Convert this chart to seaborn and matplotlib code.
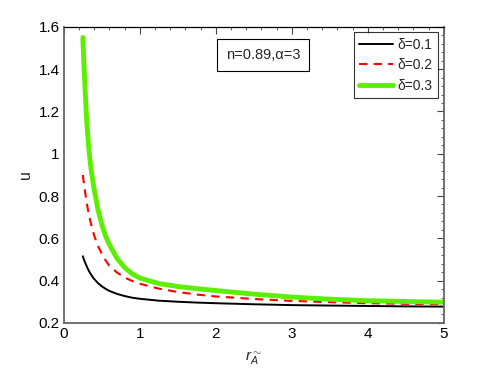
import pandas as pd
import numpy as np
import seaborn as sns
import matplotlib.pyplot as plt
from matplotlib.ticker import AutoMinorLocator, MultipleLocator

# Values
r_A = [0.25, 0.26, 0.275, 0.29, 0.30, 0.325, 0.35, 0.375, 0.40, 0.45, 0.50, 0.55,
       0.60, 0.70, 0.80, 0.90, 1.0, 1.25, 1.5, 1.75, 2.0, 2.5, 3.0, 3.5, 4.0, 4.5, 5.0]
u_d01 = [0.515, 0.504, 0.490, 0.477, 0.468, 0.449, 0.433, 0.419, 0.407, 0.388, 0.373, 0.361,
         0.351, 0.337, 0.327, 0.319, 0.314, 0.305, 0.300, 0.296, 0.293, 0.288, 0.284, 0.282,
         0.280, 0.278, 0.277]
u_d02 = [0.900, 0.870, 0.830, 0.795, 0.770, 0.720, 0.680, 0.643, 0.612, 0.563, 0.527, 0.495,
         0.470, 0.438, 0.415, 0.398, 0.385, 0.362, 0.346, 0.334, 0.325, 0.313, 0.304, 0.298,
         0.293, 0.290, 0.288]
u_d03 = [1.550, 1.460, 1.340, 1.230, 1.160, 1.040, 0.950, 0.885, 0.830, 0.735, 0.665, 0.610,
         0.570, 0.505, 0.462, 0.432, 0.412, 0.386, 0.372, 0.362, 0.353, 0.336, 0.322, 0.312,
         0.305, 0.301, 0.298]
labels = ['δ=0.1', 'δ=0.2', 'δ=0.3']

sns.set_style('white')
plt.rcParams['font.family'] = ['Liberation Sans', 'DejaVu Sans']
plt.rcParams['mathtext.fontset'] = 'custom'
plt.rcParams['mathtext.it'] = 'Liberation Sans:italic'
plt.rcParams['mathtext.rm'] = 'Liberation Sans'

fig = plt.figure(figsize=(4.91, 3.69), dpi=100)
ax = fig.add_axes([0.130, 0.125, 0.774, 0.802])

df = pd.DataFrame({'r': r_A * 3,
                   'u': u_d01 + u_d02 + u_d03,
                   'delta': [labels[0]] * len(r_A) + [labels[1]] * len(r_A) + [labels[2]] * len(r_A)})

styles = {labels[0]: dict(color='black', lw=1.4, ls='-'),
          labels[1]: dict(color='red', lw=1.5, ls=(0, (4, 3))),
          labels[2]: dict(color='#5cf000', lw=3.5, ls='-')}
for lab in labels:
    sub = df[df['delta'] == lab]
    sns.lineplot(data=sub, x='r', y='u', ax=ax, label=lab, sort=False,
                 color=styles[lab]['color'], linewidth=styles[lab]['lw'],
                 linestyle=styles[lab]['ls'])

ax.set_xlim(0, 5)
ax.set_ylim(0.2, 1.6)
ax.xaxis.set_major_locator(MultipleLocator(1))
ax.xaxis.set_minor_locator(AutoMinorLocator(5))
ax.set_yticks(np.arange(0.2, 1.61, 0.2))
ax.set_yticklabels(['0.2', '0.4', '0.6', '0.8', '1', '1.2', '1.4', '1.6'])
ax.yaxis.set_minor_locator(AutoMinorLocator(5))
ax.tick_params(which='both', direction='in', top=True, right=True, labelsize=11, pad=3)
ax.tick_params(which='major', length=5, width=0.8, colors='#444444', labelcolor='black')
ax.tick_params(which='minor', length=2.5, width=0.6, colors='#444444')
for side in ['left', 'bottom', 'right']:
    ax.spines[side].set_color('#666666')
    ax.spines[side].set_linewidth(1.3)
ax.spines['top'].set_color('black')
ax.spines['top'].set_linewidth(0.9)

ax.set_xlabel(r'$r^{\sim}_{A}$', fontsize=11, labelpad=6)
ax.set_ylabel('u', fontsize=11.5, labelpad=4)

ax.text(0.524, 0.905, 'n=0.89,α=3', transform=ax.transAxes, ha='center', va='center',
        fontsize=10.5, bbox=dict(boxstyle='square,pad=0.6', facecolor='white',
                                 edgecolor='black', linewidth=0.8))

leg = ax.legend(loc='upper right', fontsize=10, frameon=True, fancybox=False,
                handlelength=2.4, handletextpad=0.35, borderpad=0.4, labelspacing=0.45,
                borderaxespad=0.4)
leg.get_frame().set_edgecolor('black')
leg.get_frame().set_linewidth(0.8)

fig.savefig('out.png', dpi=100)
